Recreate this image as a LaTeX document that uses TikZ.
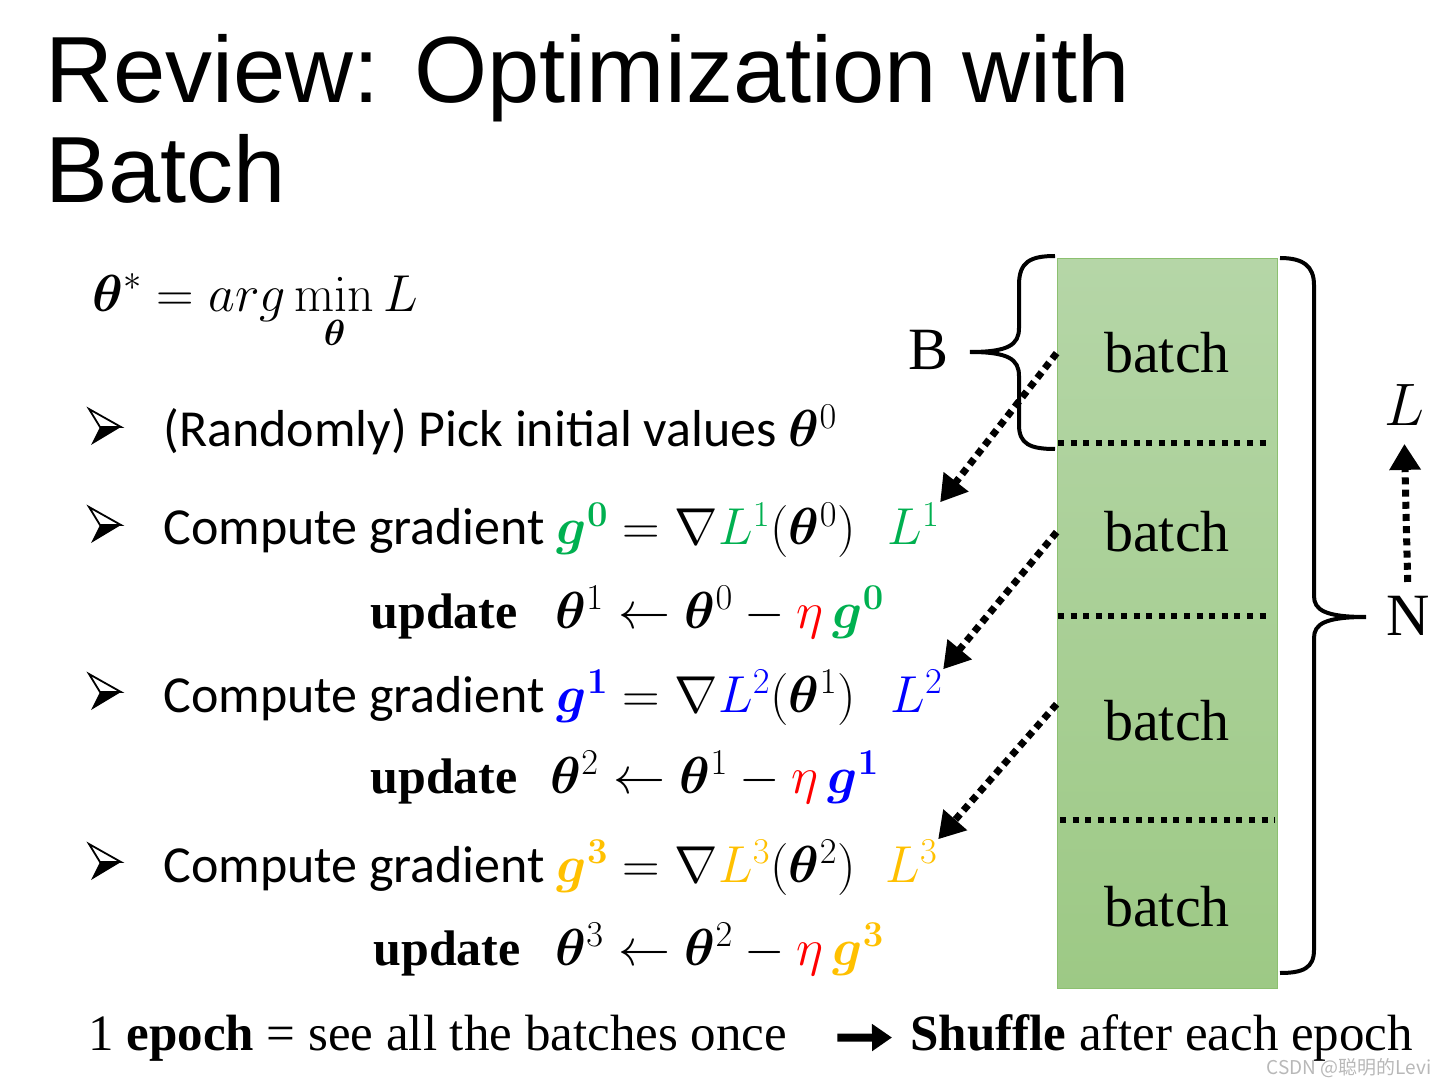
\RequirePackage{fix-cm}
\documentclass[tikz,border=0pt]{standalone}
\usepackage{amsmath,bm}
\usepackage[no-math]{fontspec}
\setmainfont{Liberation Serif}
\newfontfamily\titlefont{Liberation Sans}
\newfontfamily\bodyfont{Carlito}
\newfontfamily\markfont{Noto Sans CJK SC}
\usetikzlibrary{positioning, arrows.meta}
\definecolor{ggreen}{HTML}{00B050}
\definecolor{gblue}{HTML}{0000FF}
\definecolor{gyellow}{HTML}{FFC000}
\definecolor{gred}{HTML}{FF0000}
\definecolor{boxtop}{HTML}{B5D6A7}
\definecolor{boxbot}{HTML}{9DC985}
\definecolor{boxline}{HTML}{8CC070}
\tikzset{%
  ttl/.style={anchor=base west, inner sep=0pt, font=\titlefont\fontsize{47}{52}\selectfont},
  eq/.style={anchor=base west, inner sep=0pt, font=\bodyfont\fontsize{26}{30}\selectfont},
  upd/.style={anchor=base west, inner sep=0pt, font=\fontsize{25}{30}\selectfont\bfseries},
  lbl/.style={inner sep=0pt, font=\fontsize{30}{34}\selectfont},
  bt/.style={anchor=base, inner sep=0pt, minimum width=110pt, font=\fontsize{29}{32}\selectfont},
  btm/.style={anchor=base west, inner sep=0pt, font=\fontsize{25.5}{30}\selectfont},
  col/.style={draw=boxline, line width=0.6pt, top color=boxtop, bottom color=boxbot,
    anchor=north west, minimum width=110pt, minimum height=365pt, inner sep=0pt},
  sep/.style={line width=3pt, dash pattern=on 3pt off 3.3pt},
  brc/.style={line width=2pt},
  eda/.style={line width=3.5pt, dash pattern=on 3.5pt off 2.6pt, -{Triangle[length=13pt,width=15pt]}},
  fat/.style={line width=4pt, -{Triangle[length=10pt,width=13pt]}},
  wm/.style={anchor=south east, inner sep=0pt, text=black!28, font=\markfont\fontsize{9.5}{11}\selectfont},
  bulletmark/.pic={
    \fill[black] (12,0) -- (33,0) -- (3,18) -- cycle;
    \draw[line width=0.9pt, line join=miter] (1,-18) -- (33,0) -- (12,0) -- cycle;
  }
}

\begin{document}
\begin{tikzpicture}[x=0.5pt, y=-0.5pt]
  \useasboundingbox (0,0) rectangle (1446,1085);
  % title
  \node[ttl] (ttla) at (45,103) {Review: Optimization with};
  \node[ttl] (ttlb) at (45,203) {Batch};
  % objective
  \node[eq] (goal) at (92,312) {$\displaystyle \bm{\theta}^{*} = arg\min_{\bm{\theta}} L$};
  % steps
  \foreach \y in {427,525,692,862}
    \pic at (88,\y) {bulletmark};
  \node[eq] (sa) at (163,447) {(Randomly) Pick initial values $\bm{\theta}^{0}$};
  \node[eq] (sb) at (163,545) {Compute gradient $\textcolor{ggreen}{\bm{g}^{\bm{0}}} = \nabla\textcolor{ggreen}{L^{1}}(\bm{\theta}^{0})$};
  \node[eq] (lone) at (887,545) {$\textcolor{ggreen}{L^{1}}$};
  \node[upd] (ua) at (370,628) {update};
  \node[eq] (ma) at (555,628) {$\bm{\theta}^{1} \leftarrow \bm{\theta}^{0} - \textcolor{gred}{\eta}\,\textcolor{ggreen}{\bm{g}^{\bm{0}}}$};
  \node[eq] (sc) at (163,712) {Compute gradient $\textcolor{gblue}{\bm{g}^{\bm{1}}} = \nabla\textcolor{gblue}{L^{2}}(\bm{\theta}^{1})$};
  \node[eq] (ltwo) at (890,712) {$\textcolor{gblue}{L^{2}}$};
  \node[upd] (ub) at (370,793) {update};
  \node[eq] (mb) at (550,793) {$\bm{\theta}^{2} \leftarrow \bm{\theta}^{1} - \textcolor{gred}{\eta}\,\textcolor{gblue}{\bm{g}^{\bm{1}}}$};
  \node[eq] (sd) at (163,882) {Compute gradient $\textcolor{gyellow}{\bm{g}^{\bm{3}}} = \nabla\textcolor{gyellow}{L^{3}}(\bm{\theta}^{2})$};
  \node[eq] (lthree) at (885,882) {$\textcolor{gyellow}{L^{3}}$};
  \node[upd] (uc) at (373,965) {update};
  \node[eq] (mc) at (555,965) {$\bm{\theta}^{3} \leftarrow \bm{\theta}^{2} - \textcolor{gred}{\eta}\,\textcolor{gyellow}{\bm{g}^{\bm{3}}}$};
  % data column
  \node[col] (column) at (1057,258) {};
  \draw[sep] (1058,443) -- (1272,443);
  \draw[sep] (1058,616) -- (1272,616);
  \draw[sep] (1060,820) -- (1275,820);
  \node[bt] (bta) at (1167,373) {batch};
  \node[bt] (btb) at (1167,552) {batch};
  \node[bt] (btc) at (1167,740) {batch};
  \node[bt] (btd) at (1167,926) {batch};
  % braces
  \node[lbl] (blab) at (928,350) {B};
  \node[lbl] (nlab) at (1408,616) {N};
  \node[lbl] (llab) at (1404,405) {$L$};
  \draw[brc] (1055,256) .. controls (1030,256) and (1019,262) .. (1019,285) -- (1019,328)
    .. controls (1019,345) and (1008,352) .. (970,352)
    .. controls (1008,352) and (1019,359) .. (1019,376) -- (1019,425)
    .. controls (1019,444) and (1030,449) .. (1055,449);
  \draw[brc] (1280,258) .. controls (1303,258) and (1314,266) .. (1314,285) -- (1314,596)
    .. controls (1314,610) and (1325,617) .. (1366,617)
    .. controls (1325,617) and (1314,624) .. (1314,638) -- (1314,950)
    .. controls (1314,968) and (1303,973) .. (1280,973);
  % arrows
  \path[eda]
  (bta.west) edge (lone.north east)
  (btb.west) edge (ltwo.north east)
  ([yshift=8pt]btc.west) edge (lthree.north east)
  (nlab.north) edge[shorten <=7pt, shorten >=9pt] (llab.south);
  % epoch
  \node[btm] (epoch) at (88,1050) {1 \textbf{epoch} = see all the batches once};
  \node[btm] (shuffle) at (910,1050) {\textbf{Shuffle} after each epoch};
  \draw[fat, shorten <=25pt, shorten >=9pt] (epoch.east) -- (shuffle.west);
  \node[wm] (mark) at (1432,1078) {CSDN @聪明的Levi};
\end{tikzpicture}
\end{document}
